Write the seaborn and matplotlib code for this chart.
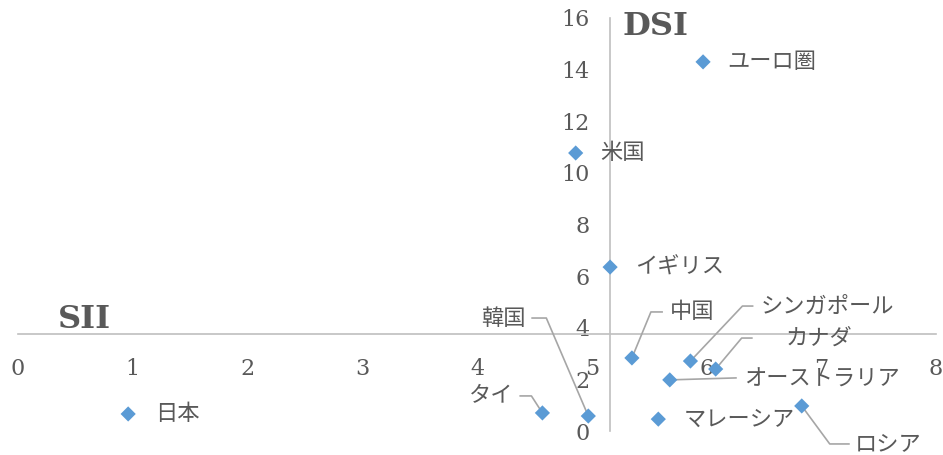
import numpy as np
import pandas as pd
import matplotlib
matplotlib.use("Agg")
import matplotlib.pyplot as plt
import seaborn as sns

# 各国の SII / DSI 値
countries = ["ユーロ圏", "米国", "イギリス", "中国", "シンガポール", "カナダ",
             "オーストラリア", "韓国", "タイ", "マレーシア", "ロシア", "日本"]
sii = [5.97, 4.86, 5.16, 5.35, 5.86, 6.08, 5.68, 4.97, 4.57, 5.58, 6.83, 0.96]
dsi = [14.30, 10.77, 6.35, 2.83, 2.71, 2.40, 1.98, 0.58, 0.70, 0.46, 0.97, 0.66]

x_ticks = [0, 1, 2, 3, 4, 5, 6, 7, 8]
y_ticks = [0, 2, 4, 6, 8, 10, 12, 14, 16]
x_cross = 5.16   # 縦軸の位置
y_cross = 3.76   # 横軸の位置

df = pd.DataFrame({"country": countries, "SII": sii, "DSI": dsi})

sns.set_style("white")
plt.rcParams["font.family"] = ["DejaVu Serif", "Noto Sans CJK JP"]

text_col = "#595959"
axis_col = "#bfbfbf"
lead_col = "#a6a6a6"
jp_font = ["Noto Sans CJK JP", "DejaVu Sans"]

fig = plt.figure(figsize=(9.43, 4.55), dpi=100)
ax = fig.add_axes([18 / 943, 24 / 455, 918 / 943, 413 / 455])

sns.scatterplot(data=df, x="SII", y="DSI", marker="D", s=60, color="#5b9bd5",
                edgecolor="none", ax=ax, zorder=3)

ax.set_xlim(0, 8)
ax.set_ylim(0, 16)
ax.set_xticks(x_ticks)
ax.set_yticks(y_ticks)
ax.set_xlabel("")
ax.set_ylabel("")

for s in ["top", "right"]:
    ax.spines[s].set_visible(False)
ax.spines["left"].set_position(("data", x_cross))
ax.spines["bottom"].set_position(("data", y_cross))
for s in ["left", "bottom"]:
    ax.spines[s].set_color(axis_col)
    ax.spines[s].set_linewidth(1.2)
    ax.spines[s].set_zorder(1)

ax.tick_params(axis="x", length=0, pad=17, labelsize=16, labelcolor=text_col)
ax.tick_params(axis="y", length=0, pad=15, labelsize=16, labelcolor=text_col)

# ラベル配置（ピクセルオフセット）：文字位置と引出線の頂点
labels = {
    "ユーロ圏": dict(text=(24, 0), ha="left"),
    "米国": dict(text=(25, 0), ha="left"),
    "イギリス": dict(text=(25, 0), ha="left"),
    "マレーシア": dict(text=(25, 0), ha="left"),
    "日本": dict(text=(27, 0), ha="left"),
    "中国": dict(text=(38, 46), ha="left", path=[(19, 46), (31, 46)]),
    "シンガポール": dict(text=(70, 55), ha="left", path=[(52, 55), (63, 55)]),
    "カナダ": dict(text=(70, 31), ha="left", path=[(26, 31), (37, 31)]),
    "オーストラリア": dict(text=(74, 1), ha="left", path=[(67, 2)]),
    "ロシア": dict(text=(53, -38), ha="left", path=[(28, -38), (48, -38)]),
    "韓国": dict(text=(-63, 98), ha="right", path=[(-42, 98), (-57, 98)]),
    "タイ": dict(text=(-29, 17), ha="right", path=[(-11, 17), (-23, 17)]),
}

fig.canvas.draw()
inv = ax.transData.inverted()
for name, x, y in zip(countries, sii, dsi):
    opt = labels[name]
    if "path" in opt:
        p0 = ax.transData.transform((x, y))
        verts = [p0] + [p0 + np.array(o) for o in opt["path"]]
        verts = inv.transform(np.array(verts))
        ax.plot(verts[:, 0], verts[:, 1], color=lead_col, lw=1.2, zorder=2,
                solid_capstyle="butt", clip_on=False)
    ax.annotate(name, (x, y), xytext=opt["text"], textcoords="offset pixels",
                ha=opt["ha"], va="center", fontsize=16, color=text_col,
                family=jp_font, zorder=4, annotation_clip=False)

fig.text(58 / 943, 1 - 328 / 455, "SII", fontsize=23, fontweight="bold",
         color=text_col, va="baseline", ha="left")
fig.text(623 / 943, 1 - 35 / 455, "DSI", fontsize=23, fontweight="bold",
         color=text_col, va="baseline", ha="left")

fig.savefig("out.png", dpi=100)
